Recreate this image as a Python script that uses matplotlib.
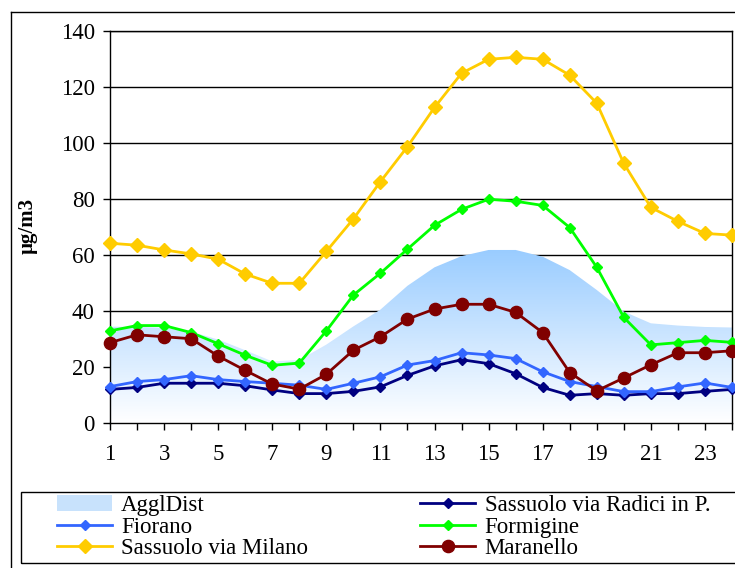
import matplotlib
matplotlib.use("Agg")
import matplotlib.pyplot as plt
import numpy as np
from matplotlib.colors import LinearSegmentedColormap
from matplotlib.patches import Polygon, Rectangle, Patch
from matplotlib.lines import Line2D

plt.rcParams['font.family'] = ['Liberation Serif', 'DejaVu Serif']

hours = list(range(1, 25))
x_tick_labels = [str(h) if h % 2 == 1 else "" for h in hours]

aggl_dist = [34.4, 34.3, 34.0, 32.6, 29.8, 26.0, 22.0, 22.5, 28.0, 34.5, 40.5, 49.0,
             55.6, 59.6, 61.8, 61.8, 59.4, 54.6, 47.5, 39.8, 35.6, 34.8, 34.3, 34.1]
radici = [12.0, 12.7, 14.2, 14.2, 14.2, 13.3, 11.8, 10.5, 10.5, 11.3, 12.9, 17.0,
          20.4, 22.6, 21.2, 17.6, 12.7, 9.9, 10.5, 9.9, 10.5, 10.5, 11.3, 12.0]
fiorano = [13.0, 14.8, 15.5, 16.9, 15.5, 14.8, 14.2, 13.5, 12.0, 14.2, 16.5, 20.7,
           22.3, 25.1, 24.3, 23.0, 18.3, 14.8, 13.0, 11.2, 11.2, 12.9, 14.3, 12.7]
formigine = [32.9, 34.8, 34.8, 32.3, 28.3, 24.2, 20.6, 21.4, 32.9, 45.7, 53.5, 62.1,
             70.6, 76.3, 79.9, 79.2, 77.7, 69.8, 55.6, 37.7, 27.9, 28.7, 29.5, 28.8]
milano = [64.2, 63.5, 61.8, 60.4, 58.5, 53.2, 49.9, 49.9, 61.3, 72.9, 86.2, 98.7,
          112.7, 124.9, 129.9, 130.6, 129.9, 124.2, 114.2, 92.7, 77.0, 72.0, 67.7, 67.1]
maranello = [28.7, 31.5, 30.8, 30.1, 23.9, 18.8, 13.9, 12.1, 17.4, 26.0, 30.8, 37.1,
             40.7, 42.4, 42.4, 39.5, 32.3, 18.0, 11.5, 16.1, 20.8, 25.1, 25.1, 25.8]

W, H = 735, 568
fig = plt.figure(figsize=(W / 100, H / 100), dpi=100)
fig.patch.set_facecolor('white')
ax = fig.add_axes([110 / W, 1 - 423 / H, (732 - 110) / W, (423 - 31) / H])

ax.set_xlim(1, 24)
ax.set_ylim(0, 140)
ax.set_yticks(np.arange(0, 141, 20))
ax.set_xticks(hours)
ax.set_xticklabels(x_tick_labels)
ax.tick_params(axis='both', direction='out', length=5, width=1, color='black',
               labelsize=16.5, pad=6)
ax.tick_params(axis='x', pad=10)
for s in ['left', 'bottom', 'top', 'right']:
    ax.spines[s].set_linewidth(1)
    ax.spines[s].set_color('black')
ax.yaxis.grid(True, color='black', linewidth=1, zorder=0)
ax.set_axisbelow(True)

# gradient area
cmap = LinearSegmentedColormap.from_list('agg', ['#FFFFFF', '#99CCFF'])
grad = np.linspace(0, 1, 256).reshape(-1, 1)
top = max(aggl_dist)
im = ax.imshow(grad, extent=[hours[0], hours[-1], 0, top], aspect='auto',
               cmap=cmap, origin='lower', zorder=1, interpolation='bilinear')
verts = list(zip(hours, aggl_dist)) + [(hours[-1], 0), (hours[0], 0)]
poly = Polygon(verts, closed=True, facecolor='none', edgecolor='none',
               transform=ax.transData)
ax.add_patch(poly)
im.set_clip_path(poly)

l_radici, = ax.plot(hours, radici, color='#000080', lw=2, marker='D', ms=4.8,
                    zorder=3, clip_on=False)
l_fiorano, = ax.plot(hours, fiorano, color='#3366FF', lw=2, marker='D', ms=5.0,
                     zorder=3, clip_on=False)
l_formigine, = ax.plot(hours, formigine, color='#00FF00', lw=2, marker='D', ms=4.8,
                       zorder=3, clip_on=False)
l_milano, = ax.plot(hours, milano, color='#FFCC00', lw=2, marker='D', ms=7.2,
                    zorder=3, clip_on=False)
l_maranello, = ax.plot(hours, maranello, color='#800000', lw=2, marker='o', ms=8.8,
                       zorder=4, clip_on=False)

fig.text(28 / W, 1 - 226 / H, 'µg/m3', rotation=90, ha='center', va='center',
         fontsize=15, fontweight='bold')

# outer chart frame
fig.add_artist(Line2D([10.5 / W, 10.5 / W], [0, 1 - 11.5 / H], color='black', lw=1))
fig.add_artist(Line2D([10.5 / W, 1], [1 - 11.5 / H, 1 - 11.5 / H], color='black', lw=1))
# legend frame
fig.add_artist(Rectangle((20.5 / W, 1 - 562.5 / H), (760 - 20.5) / W, (562.5 - 491.5) / H,
                         transform=fig.transFigure, facecolor='none',
                         edgecolor='black', lw=1))

agg_handle = Patch(facecolor='#C8E2FC', edgecolor='none')
handles = [agg_handle, l_fiorano, l_milano, l_radici, l_formigine, l_maranello]
labels = ['AgglDist', 'Fiorano', 'Sassuolo via Milano',
          'Sassuolo via Radici in P.', 'Formigine', 'Maranello']
leg = fig.legend(handles, labels, ncol=2, loc='upper left',
                 bbox_to_anchor=(57 / W, 1 - 495 / H), frameon=False,
                 fontsize=16.5, handlelength=2.4, handletextpad=0.4,
                 labelspacing=0.02, columnspacing=4.9, borderpad=0,
                 borderaxespad=0)

fig.savefig('out.png', dpi=100)
